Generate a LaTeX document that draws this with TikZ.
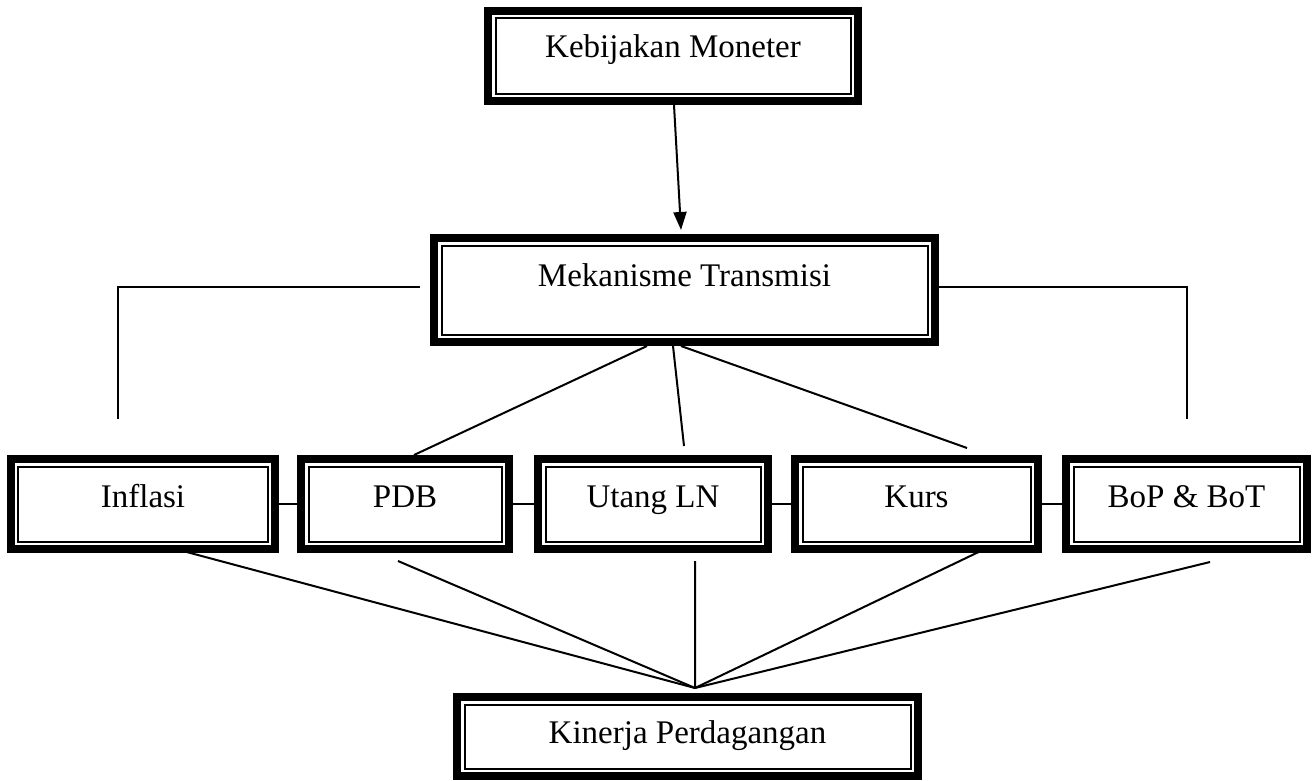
\documentclass[tikz,border=0pt]{standalone}
\usepackage{fontspec}
\setmainfont{Liberation Serif}
\usetikzlibrary{arrows.meta}
\tikzset{
every picture/.style={line width=2bp, >={Triangle[length=18bp,width=13bp]}},
%%%%%%%%%%  Node styles
framebox/.style args={#1,#2}{draw, line width=8bp, inner sep=0pt,
                 minimum width=#1, minimum height=#2,
                 font=\fontsize{33bp}{39bp}\selectfont,
                 path picture={\draw[line width=2bp]
                   ([shift={(7.5bp,-7.5bp)}]path picture bounding box.north west)
                   rectangle ([shift={(-7.5bp,7.5bp)}]path picture bounding box.south east);}},
%% text sits a bit above the middle, set by its depth
textpos/.style={text height=45bp, text depth=#1},
%%%%%%% connector lines
link/.style={line width=2bp},
}

\begin{document}
\begin{tikzpicture}[x=1bp,y=-1bp]
\useasboundingbox (0,0) rectangle (1313,780);
%% top boxes
\node[framebox={370bp,90bp}, textpos=41bp] (kebijakan) at (673,56) {Kebijakan Moneter};
\node[framebox={501bp,104bp}, textpos=53bp] (mekanisme) at (684.5,290) {Mekanisme Transmisi};
%% middle row
\node[framebox={264bp,90bp}, textpos=39bp] (inflasi) at (143,504) {Inflasi};
\node[framebox={208bp,90bp}, textpos=39bp] (pdb) at (405,504) {PDB};
\node[framebox={230bp,90bp}, textpos=39bp] (utang) at (653,504) {Utang LN};
\node[framebox={243bp,90bp}, textpos=39bp] (kurs) at (916.5,504) {Kurs};
\node[framebox={241bp,90bp}, textpos=39bp] (bop) at (1186.5,504) {BoP \& BoT};
%% bottom box
\node[framebox={461bp,79bp}, textpos=32bp] (kinerja) at (687.5,736.5) {Kinerja Perdagangan};
\coordinate (conv) at (695,688);
%%%%%%%%%%%%%%%%%%%%%%%%%%%%%%%%%%%%%%%%%%%%%%
\draw[link,->] ([xshift=1bp]kebijakan.south) -- ([xshift=-3.5bp,yshift=4bp]mekanisme.north);
%% brackets left and right
\draw[link] ([xshift=-10bp,yshift=3bp]mekanisme.west) -| ([xshift=-25bp,yshift=36bp]inflasi.north);
\draw[link] ([yshift=3bp]mekanisme.east) -| ([yshift=36bp]bop.north);
%% fan out of the transmission box
\draw[link] ([xshift=-37.5bp]mekanisme.south) -- ([xshift=9bp]pdb.north);
\draw[link] ([xshift=-11.5bp]mekanisme.south) -- ([xshift=31bp,yshift=9bp]utang.north);
\draw[link] ([xshift=-3.5bp]mekanisme.south) -- ([xshift=50.5bp,yshift=7bp]kurs.north);
%% row links
\draw[link] (inflasi.east) -- (pdb.west);
\draw[link] (pdb.east) -- (utang.west);
\draw[link] (utang.east) -- (kurs.west);
\draw[link] (kurs.east) -- (bop.west);
%% fan in to the bottom box
\draw[link] ([xshift=25bp,yshift=6bp]inflasi.south) -- (conv);
\draw[link] ([xshift=-7bp,yshift=-8bp]pdb.south) -- (conv);
\draw[link] ([xshift=42bp,yshift=-8bp]utang.south) -- (conv);
\draw[link] ([xshift=72.5bp,yshift=6bp]kurs.south) -- (conv);
\draw[link] ([xshift=23.5bp,yshift=-9bp]bop.south) -- (conv);
\end{tikzpicture}
\end{document}
